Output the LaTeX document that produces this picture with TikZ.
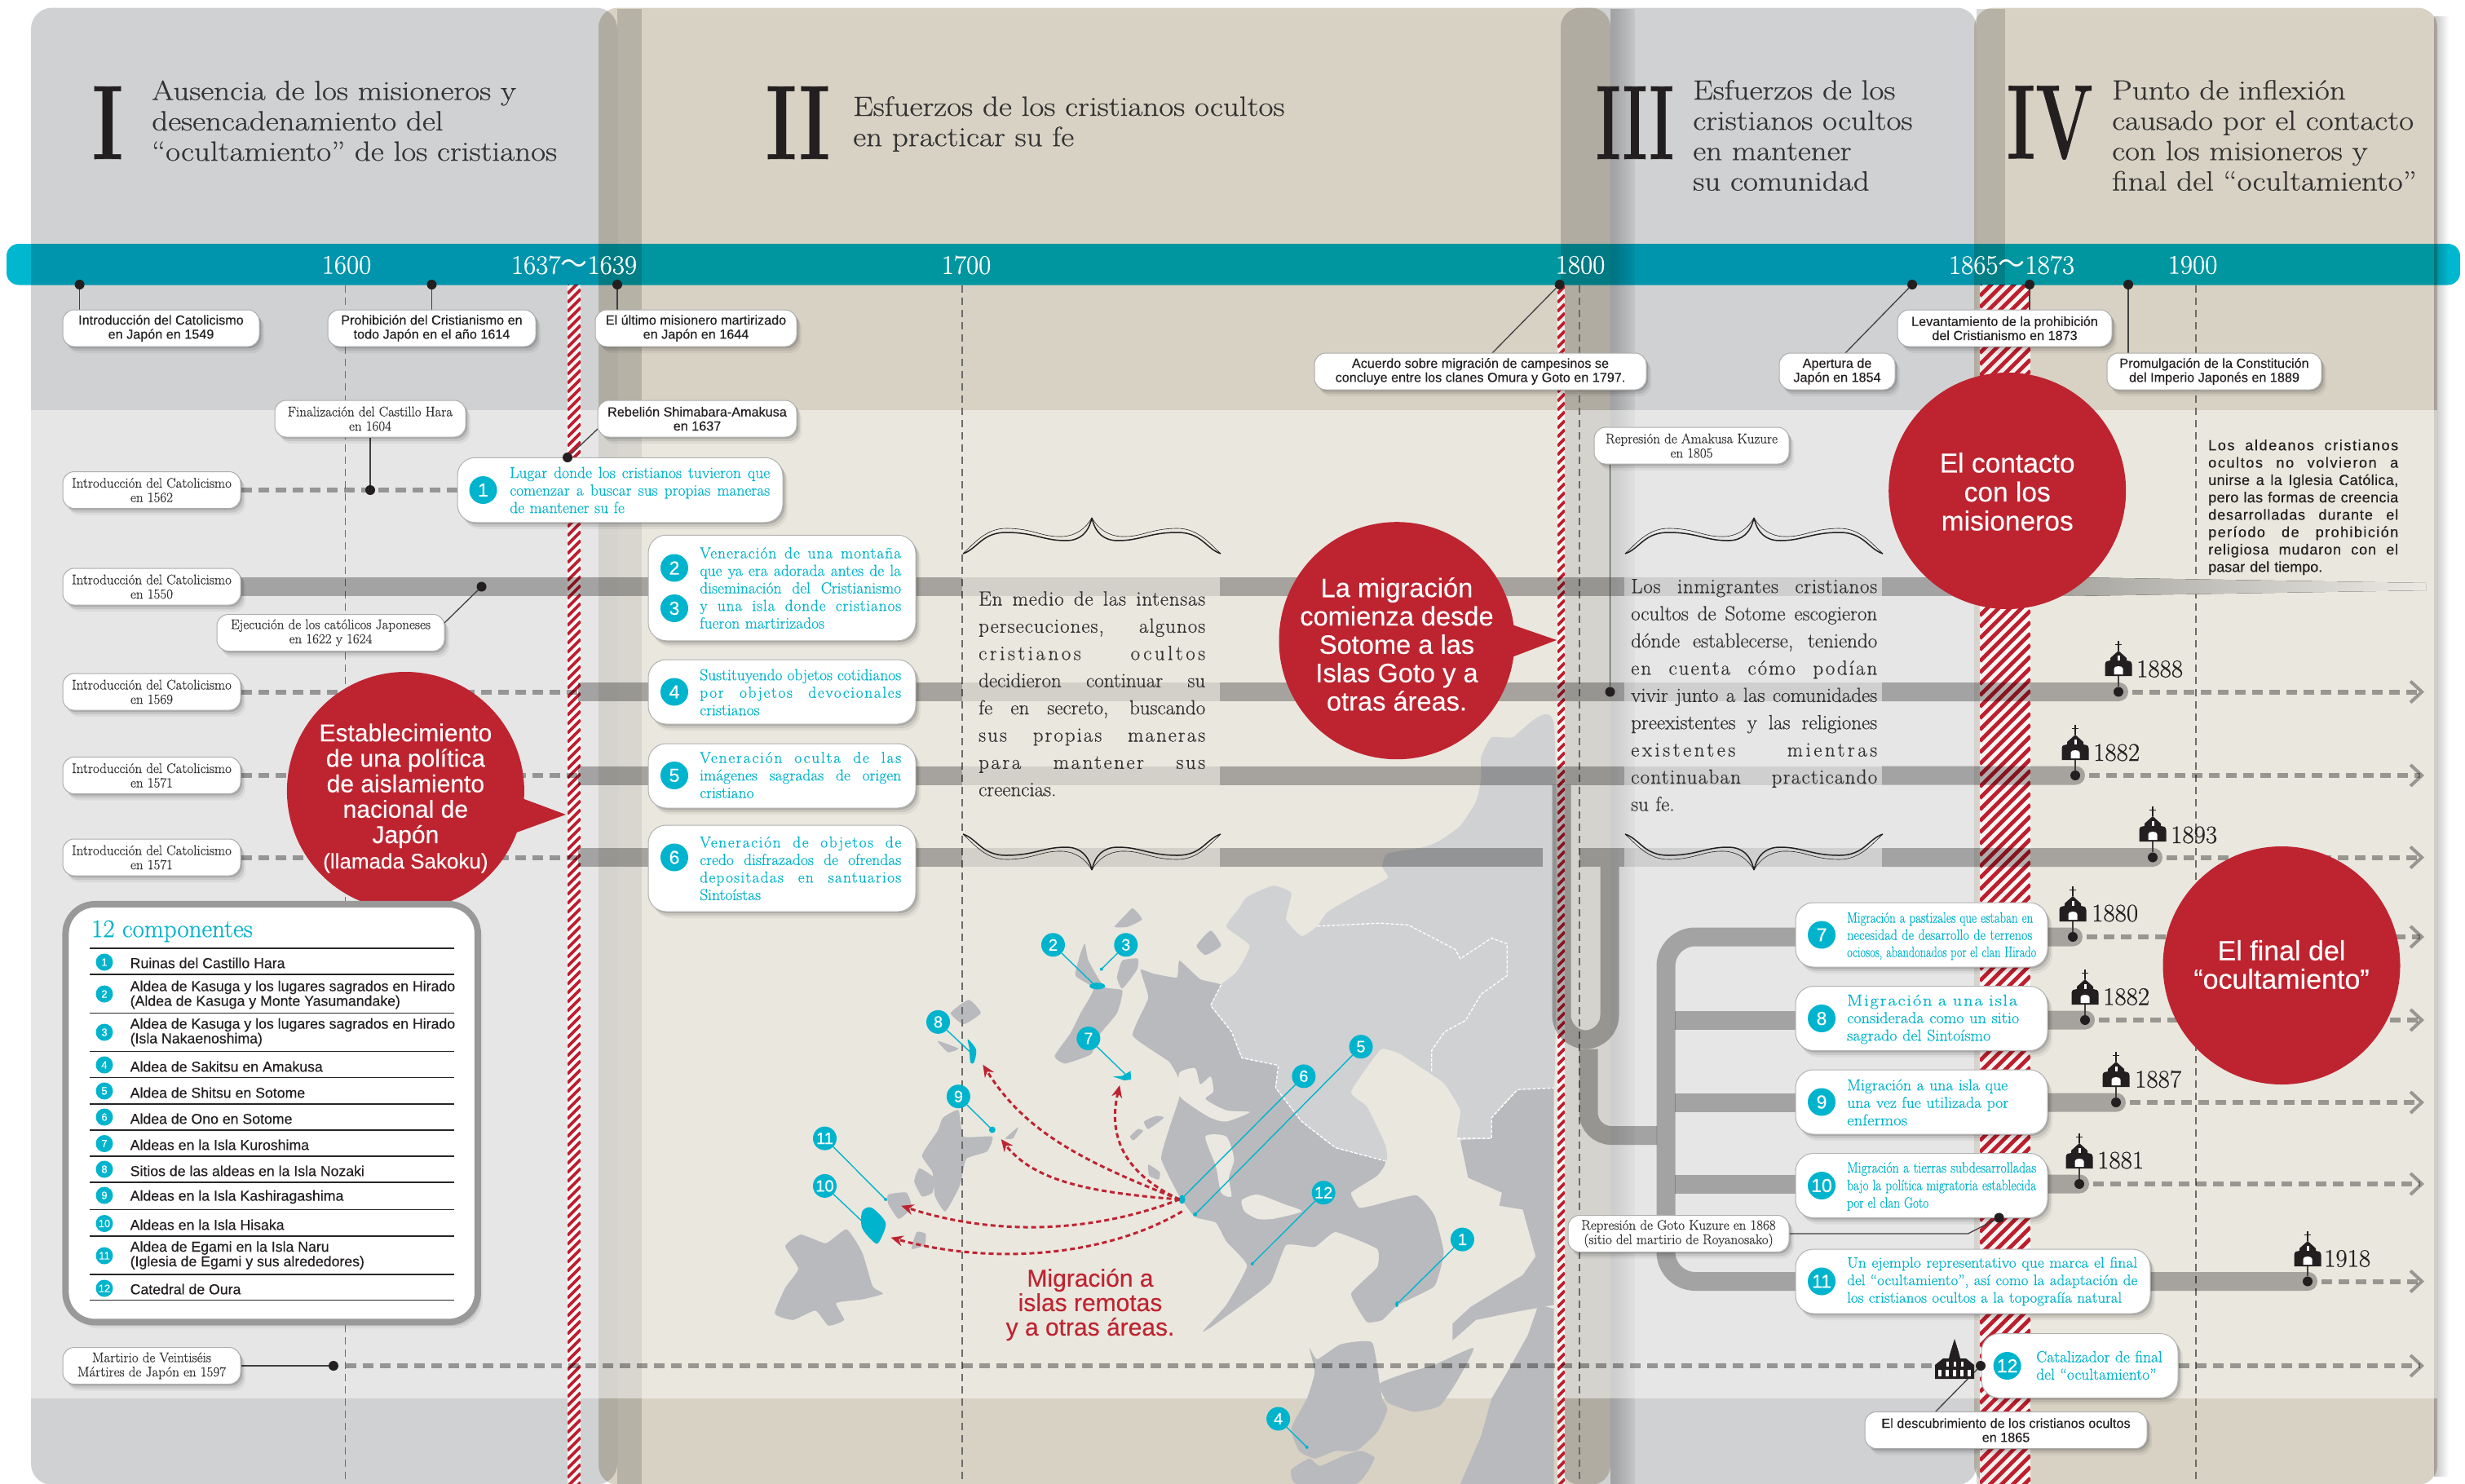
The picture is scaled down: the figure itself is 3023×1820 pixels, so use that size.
\documentclass[tikz,border=0pt]{standalone}
\usepackage{fontspec}
\usepackage{graphicx}
\setmainfont{Latin Modern Roman}[FakeBold=0.5]
\setsansfont{Liberation Sans}[FakeBold=0.25]
\newfontfamily\cjkfont{Noto Sans CJK JP}
\usetikzlibrary{shapes.geometric,shadows,arrows.meta}
\pgfdeclarelayer{bgl}\pgfdeclarelayer{conl}\pgfsetlayers{bgl,conl,main}
\definecolor{greyp}{HTML}{D0D1D3}
\definecolor{beigep}{HTML}{D8D2C4}
\definecolor{barc}{HTML}{00B7D0}
\definecolor{tealc}{HTML}{00B4CD}
\definecolor{redc}{HTML}{BE2430}
\definecolor{hatchc}{HTML}{BE1E2D}
\definecolor{inkc}{HTML}{231F20}
\definecolor{bodyc}{HTML}{333333}
\definecolor{landd}{HTML}{B9BABE}
\definecolor{seac}{HTML}{EAE8E1}
\newcommand\fs[2]{\fontsize{#1}{#2}\selectfont}
\newcommand\jl[1]{\hbox to \hsize{\spaceskip=.3em plus 1fil minus .1em\relax #1}\par}
\newcommand\jls[2]{{\addfontfeature{LetterSpace=#1}\jl{#2}}}
\newcommand\nl[1]{\hbox{#1}\par}
\newcommand\fitl[2]{\hbox{\resizebox{#1}{\height}{#2}}\par}
\newcommand\hatchstrip[4]{%
 \begin{scope}
 \clip (#1,349) rectangle (#2,1821);
 \fill[white,opacity=.78] (#1,349) rectangle (#2,1821);
 \pgfmathsetmacro\dw{#2-#1}
 \foreach \yy in {349,#3,...,2300} {\draw[draw=hatchc,line width=#4] (#1,\yy) -- ++(\dw,-\dw);}
 \end{scope}}
\newcommand\bandend[3]{\fill[fill=bandg,rounded corners=11.4pt] (#1,#3-11.5) -- (#2+12,#3-11.5) -- (#2+12,#3+11.5) [sharp corners] -- (#1,#3+11.5) -- cycle;}
\definecolor{bandg}{HTML}{B5B5B5}
\definecolor{bandlg}{HTML}{E6E6E6}
\definecolor{dashg}{HTML}{A6A6A6}
\tikzset{
 softshadow/.style={drop shadow={shadow xshift=2pt,shadow yshift=-2pt,opacity=.14,fill=black},
   drop shadow={shadow xshift=4pt,shadow yshift=-5pt,opacity=.09,fill=black},
   drop shadow={shadow xshift=6pt,shadow yshift=-8pt,opacity=.05,fill=black}},
 lblbase/.style={draw=black!32,line width=1pt,fill=white,rounded corners=14pt,inner sep=0pt,align=center,minimum height=45pt,softshadow},
 lblsans/.style={lblbase,font=\sffamily\fs{16.2}{17.3},text=inkc},
 lblserif/.style={lblbase,font=\fs{17}{17.6},text=bodyc},
 cardbox/.style={draw=black!30,line width=1pt,fill=white,rounded corners=22pt,inner sep=0pt,softshadow},
 cardtxt/.style={inner sep=0pt,anchor=west,text=tealc,font=\fs{19.5}{21.5}},
 numc/.style={circle,fill=tealc,text=white,inner sep=0pt,minimum size=34pt,font=\sffamily\fs{23}{23}},
 numl/.style={circle,fill=tealc,text=white,inner sep=0pt,minimum size=21pt,font=\sffamily\fs{13}{13}},
 numm/.style={circle,fill=tealc,text=white,inner sep=0pt,minimum size=29pt,font=\sffamily\fs{20}{20}},
 dotn/.style={circle,fill=inkc,inner sep=0pt,minimum size=12pt},
 leader/.style={draw=black!75,line width=1.3pt},
 tickv/.style={draw=black!58,line width=1.4pt,dash pattern=on 9pt off 6pt},
 bandd/.style={draw=bandg,line width=23pt},
 bandl/.style={draw=bandlg,line width=23pt},
 rowdash/.style={draw=dashg,line width=6pt,dash pattern=on 13pt off 8pt},
 rowarrow/.style={rowdash,-{Straight Barb[length=14pt,width=26pt,line width=4pt]}},
 bubble/.style={ellipse,fill=redc,inner sep=0pt},
 bubtxt/.style={text=white,align=center,inner sep=0pt,font=\sffamily},
 heading/.style={anchor=west,align=left,inner sep=0pt,text=bodyc,font=\fs{34}{37.2},xscale=1.15,transform shape},
 numeral/.style={inner sep=0pt,text=inkc,font=\bfseries\fs{128}{128}},
 yearbar/.style={text=white,inner sep=0pt,font=\fs{33}{33}},
 yearlbl/.style={anchor=west,inner sep=0pt,text=inkc,font=\fs{31}{31}},
 bodytxt/.style={inner sep=0pt,text width=#1,text=bodyc,font=\fs{25}{33.4}},
 legtxt/.style={anchor=west,inner sep=0pt,align=left,text=inkc,font=\sffamily\fs{17.7}{18}},
 land/.style={fill=landd},
 mapline/.style={draw=tealc,line width=1.4pt},
 migr/.style={draw=redc,line width=3pt,dash pattern=on 6pt off 4pt,-{Stealth[length=15pt,width=13pt]}},
 chapel/.pic={
  \fill[inkc] (-16.5,0) -- (-16.5,-14) .. controls (-16.5,-18) and (-13,-19) .. (-10,-19) -- (-10,-22) -- (0,-31) -- (10,-22) -- (10,-19) .. controls (13,-19) and (16.5,-18) .. (16.5,-14) -- (16.5,0) -- cycle;
  \fill[white] (-5.5,-2) -- (-5.5,-9) .. controls (-5.5,-13) and (5.5,-13) .. (5.5,-9) -- (5.5,-2) -- cycle;
  \fill[white] (-1.5,-19) rectangle (1.5,-25);
  \draw[inkc,line width=1.6pt] (0,-31) -- (0,-43) (-4,-38.5) -- (4,-38.5);
 },
 cathedral/.pic={
  \fill[inkc] (-24,0) -- (-24,-17) -- (-14,-25) -- (-7,-25) -- (-5,-33) -- (0,-49) -- (5,-33) -- (7,-25) -- (14,-25) -- (24,-17) -- (24,0) -- cycle;
  \foreach \xx in {-18,-9,0,9,18} {\fill[white] (\xx-1.8,-3) rectangle (\xx+1.8,-11);}
  \foreach \xx in {-9,0,9} {\fill[white] (\xx-1.5,-15) rectangle (\xx+1.5,-21);}
 },
 flourish/.pic={
  \foreach \s in {1,-1} {
   \begin{scope}[xscale=\s]
   \draw[inkc,line width=1.5pt] (0,0) .. controls (4,18) and (14,28) .. (32,28) .. controls (60,28) and (70,18) .. (105,18) .. controls (135,18) and (140,38) .. (158,44);
   \draw[inkc,line width=.6pt] (0,0) .. controls (8,14) and (20,22) .. (36,23) .. controls (62,24) and (72,13) .. (105,13) .. controls (130,13) and (145,32) .. (158,44);
   \end{scope}}
 }
}
\begin{document}
\begin{tikzpicture}[x=1pt,y=-1pt]
\useasboundingbox (0,0) rectangle (3023,1820);
\begin{pgfonlayer}{bgl}
 \fill[white] (0,0) rectangle (3023,1820);
 \fill[left color=black!24,right color=white] (2985,20) rectangle (3003,1810);
 % panels
 \begin{scope}[blend mode=multiply]
  \fill[greyp,rounded corners=26pt] (38,9.5) rectangle (757,1821);
  \fill[beigep,rounded corners=24pt] (734,9.5) rectangle (1975,1821);
  \fill[greyp,rounded corners=24pt] (1914,9.5) rectangle (2424,1821);
  \fill[beigep,rounded corners=24pt] (2421,9.5) rectangle (2989,1821);
  \fill[black!15] (757,11) rectangle (787,1820);
  \fill[black!15] (2424,11) rectangle (2459,1820);
  \foreach \xa/\pp in {1975/22,1978/21,1981/20,1984/18,1987/16,1990/14,1993/12,1996/10,1999/8,2002/6} {\fill[black!\pp] (\xa,11) rectangle (\xa+3,1820);}
 \end{scope}
 \fill[white,opacity=.47] (38,503) rectangle (2989,1715);
 % map
 \begin{scope}[x=.6378pt,y=-.4591pt,shift={(1000pt,-1100pt)}]
  \fill[greyp] plot[tension=.3,smooth cycle] coordinates {(935,105) (965,78) (985,40) (1040,-5) (1100,-50) (1090,-81) (1100,-116) (1170,-133) (1200,-150) (1240,-190) (1270,-254) (1280,-314) (1280,-374) (1300,-426) (1340,-426) (1420,-460) (1420,510) (1350,515) (1300,590) (1300,645) (1235,645) (1240,570) (1210,500) (1180,470) (1125,420) (1105,410) (1085,410) (1030,520) (1060,560) (1095,660) (1095,705) (1000,670) (935,600) (885,510) (890,450) (820,430) (800,360) (760,290) (780,235) (810,200) (835,130) (790,80) (815,30) (830,0) (880,-30) (915,-10) (905,60)};
  \fill[land] plot[tension=.25,smooth cycle] coordinates {(625,195) (650,205) (695,215) (700,170) (740,220) (780,235) (760,290) (800,360) (820,430) (890,450) (885,510) (935,600) (1000,670) (1095,705) (1080,745) (1030,790) (1045,830) (1070,825) (1155,797) (1190,850) (1208,950) (1190,1040) (1120,1090) (1090,1130) (1060,1135) (1030,1060) (1080,990) (1080,940) (1000,895) (960,935) (905,930) (875,1030) (810,1100) (760,1150) (745,1160) (790,1090) (830,985) (790,920) (770,870) (730,855) (700,800) (665,700) (680,620) (700,535) (700,490) (680,440) (610,370) (640,270)};
  \fill[seac] plot[tension=.4,smooth cycle] coordinates {(700,470) (730,458) (740,500) (760,480) (765,520) (750,540) (790,570) (835,575) (790,600) (760,590) (725,560) (700,530)};
  \fill[seac] plot[tension=.4,smooth cycle] coordinates {(750,640) (790,640) (805,700) (795,750) (800,800) (780,790) (770,720)};
  \fill[seac] plot[tension=.4,smooth cycle] coordinates {(820,810) (850,795) (900,820) (935,840) (880,860) (850,860) (825,840)};
  \fill[land] (1240,650) -- (1300,645) -- (1300,590) -- (1350,515) -- (1420,510) -- (1420,1090) -- (1340,1110) -- (1270,1130) -- (1225,1185) -- (1225,1140) -- (1260,1095) -- (1360,1010) -- (1385,960) -- (1360,835) -- (1315,825) -- (1320,790) -- (1255,750) -- cycle;
  \fill[land] plot[tension=.3,smooth cycle] coordinates {(950,1205) (965,1235) (1010,1195) (1070,1190) (1085,1300) (1090,1340) (1100,1370) (1080,1430) (1040,1480) (1000,1480) (960,1500) (930,1480) (915,1420) (945,1340) (960,1270)};
  \fill[land] plot[tension=.3,smooth cycle] coordinates {(1085,1300) (1140,1270) (1190,1250) (1265,1205) (1235,1290) (1200,1360) (1150,1375) (1100,1350)};
  \fill[land] plot[tension=.3,smooth cycle] coordinates {(925,1568) (915,1530) (950,1500) (970,1520) (1020,1490) (1050,1480) (1075,1500) (1040,1568)};
  \fill[land] (1420,1100) -- (1390,1090) -- (1370,1170) -- (1330,1270) -- (1300,1340) -- (1280,1440) -- (1240,1568) -- (1420,1568) -- cycle;
  \fill[land] plot[tension=.3,smooth cycle] coordinates {(518,125) (525,170) (555,240) (590,250) (580,310) (545,370) (530,420) (480,445) (460,425) (490,365) (510,310) (535,245) (500,210) (510,150)};
  \fill[land] plot[tension=.3,smooth cycle] coordinates {(590,170) (620,165) (618,195) (590,245) (580,215)};
  \fill[land] plot[tension=.3,smooth cycle] coordinates {(245,590) (275,570) (285,640) (340,640) (330,680) (290,700) (278,770) (250,840) (230,800) (225,735) (205,690) (235,625)};
  \fill[land] plot[tension=.3,smooth cycle] coordinates {(200,725) (228,750) (225,790) (205,800) (190,760)};
  \fill[land] plot[tension=.3,smooth cycle] coordinates {(390,615) (380,645) (365,645)};
  \fill[land] plot[tension=.3,smooth cycle] coordinates {(295,275) (318,310) (285,340) (260,310)};
  \fill[land] plot[tension=.3,smooth cycle] coordinates {(235,385) (275,405) (255,415)};
  \fill[land] plot[tension=.3,smooth cycle] coordinates {(140,795) (175,790) (185,830) (160,860) (140,820)};
  \fill[land] plot[tension=.3,smooth cycle] coordinates {(195,895) (212,900) (210,930) (185,940)};
  \fill[land] plot[tension=.3,smooth cycle] coordinates {(60,888) (90,950) (110,1040) (130,1060) (90,1075) (40,1085) (55,1130) (25,1145) (0,1105) (-43,1130) (-78,1113) (-58,1044) (-33,993) (-58,933) (-28,902) (20,925)};
  \fill[land] plot[tension=.3,smooth cycle] coordinates {(610,30) (628,60) (600,80) (575,80) (595,50)};
  \fill[land] plot[tension=.3,smooth cycle] coordinates {(760,90) (780,130) (750,155) (733,130)};
  \fill[land] plot[tension=.3,smooth cycle] coordinates {(655,585) (670,590) (640,620) (632,600)};
  \fill[land] plot[tension=.3,smooth cycle] coordinates {(620,620) (630,625) (612,650) (605,640)};
  \fill[land] plot[tension=.3,smooth cycle] coordinates {(640,715) (662,735) (660,755) (642,745)};
  \draw[white,line width=1.3pt,dash pattern=on 4pt off 2pt] (965,78) -- (1085,70) -- (1140,75) -- (1230,140) -- (1240,165) -- (1300,110) -- (1330,125) -- (1330,210) -- (1280,260) -- (1250,330) -- (1210,360) -- (1185,410) -- (1185,470);
  \draw[white,line width=1.3pt,dash pattern=on 4pt off 2pt] (780,235) -- (760,290) -- (800,360) -- (820,430) -- (890,450) -- (885,510) -- (935,600) -- (1000,670) -- (1095,705);
  \draw[white,line width=1.3pt,dash pattern=on 4pt off 2pt] (1235,645) -- (1300,645) -- (1300,590) -- (1350,515) -- (1420,510);
 \end{scope}
 % hatching
 \hatchstrip{696}{712}{360}{3.8pt}
 \hatchstrip{1910}{1919}{360}{3.6pt}
 \hatchstrip{2428}{2490}{363}{4.8pt}
 % dashed year lines
 \coordinate (t16) at (423.5,350); \coordinate (t17) at (1180,350);
 \coordinate (t18) at (1937,350); \coordinate (t19) at (2693,350);
 \foreach \tt in {t16,t17,t18,t19} {\draw[tickv] (\tt) -- (\tt |- 0,1820);}
 % time bar
 \begin{scope}[blend mode=multiply]
  \fill[barc,rounded corners=15pt] (8,299) rectangle (3017,349.5);
 \end{scope}
\end{pgfonlayer}

% year labels on the bar
\node[yearbar] at (425,325) {1600};
\node[yearbar] at (704,325) {1637{\cjkfont ～}1639};
\node[yearbar] at (1185,325) {1700};
\node[yearbar] at (1938,325) {1800};
\node[yearbar] at (2467,325) {1865{\cjkfont ～}1873};
\node[yearbar] at (2689,325) {1900};

% headings
\node[numeral] at (132,150.5) {\resizebox{38pt}{89pt}{I}};
\node[numeral] at (978.5,150.5) {\resizebox{79pt}{89pt}{II}};
\node[numeral] at (2005,150.5) {\resizebox{96pt}{89pt}{III}};
\node[numeral] at (2514,150.5) {\resizebox{106pt}{89pt}{IV}};
\node[heading] at (186,148) {Ausencia de los misioneros y\\desencadenamiento del\\“ocultamiento” de los cristianos};
\node[heading] at (1046,152) {Esfuerzos de los cristianos ocultos\\en practicar su fe};
\node[heading] at (2076,166) {Esfuerzos de los\\cristianos ocultos\\en mantener\\su comunidad};
\node[heading] at (2590,166) {Punto de inflexión\\causado por el contacto\\con los misioneros y\\final del “ocultamiento”};

% body texts
\node[bodytxt=278pt,anchor=north west] at (1200,725) {\jls{3}{En medio de las intensas}\jls{4}{persecuciones, algunos}\jls{14}{cristianos ocultos}\jl{decidieron continuar su}\jl{fe en secreto, buscando}\jls{8}{sus propias maneras}\jls{10}{para mantener sus}\nl{creencias.}};
\node[bodytxt=302pt,anchor=north west] at (2000,710) {\jls{3}{Los inmigrantes cristianos}\jl{ocultos de Sotome escogieron}\jl{dónde establecerse, teniendo}\jls{8}{en cuenta cómo podían}\jl{vivir junto a las comunidades}\jl{preexistentes y las religiones}\jls{14}{existentes mientras}\jls{5}{continuaban practicando}\nl{su fe.}};
\node[inner sep=0pt,text width=233pt,anchor=north west,text=inkc,font=\sffamily\fs{18}{21.3}] at (2708,539) {\jls{9}{Los aldeanos cristianos}\jls{9}{ocultos no volvieron a}\jls{2}{unirse a la Iglesia Católica,}\jls{2}{pero las formas de creencia}\jls{5}{desarrolladas durante el}\jls{8}{período de prohibición}\jls{5}{religiosa mudaron con el}\nl{pasar del tiempo.}};
\node[text=redc,align=center,inner sep=0pt,font=\sffamily\fs{30}{30}] at (1337,1600) {Migración a\\islas remotas\\y a otras áreas.};

% flourishes
\pic at (1339,635) {flourish};
\pic[yscale=-1] at (1339,1067) {flourish};
\pic at (2151,635) {flourish};
\pic[yscale=-1] at (2151,1067) {flourish};

% label boxes
\node[lblsans,minimum width=241pt] (a) at (197.5,402.5) {Introducción del Catolicismo\\en Japón en 1549};
\node[lblsans,minimum width=255pt] (b) at (529.5,402.5) {Prohibición del Cristianismo en\\todo Japón en el año 1614};
\node[lblsans,minimum width=247pt] (c) at (853.5,402.5) {El último misionero martirizado\\en Japón en 1644};
\node[lblserif,minimum width=234pt] (d) at (454,513.5) {Finalización del Castillo Hara\\en 1604};
\node[lblsans,minimum width=244pt] (e) at (855,513.5) {Rebelión Shimabara-Amakusa\\en 1637};
\node[lblserif,minimum width=218pt] (f) at (186,601) {Introducción del Catolicismo\\en 1562};
\node[lblserif,minimum width=218pt] (g) at (186,719.5) {Introducción del Catolicismo\\en 1550};
\node[lblserif,minimum width=279pt] (h) at (405.5,776) {Ejecución de los católicos Japoneses\\en 1622 y 1624};
\node[lblserif,minimum width=218pt] (i) at (186,848.5) {Introducción del Catolicismo\\en 1569};
\node[lblserif,minimum width=218pt] (j) at (186,951) {Introducción del Catolicismo\\en 1571};
\node[lblserif,minimum width=218pt] (k) at (186,1051.5) {Introducción del Catolicismo\\en 1571};
\node[lblserif,minimum width=218pt] (l) at (186,1675) {Martirio de Veintiséis\\Mártires de Japón en 1597};
\node[lblsans,minimum width=407pt] (m) at (1815.5,455.5) {Acuerdo sobre migración de campesinos se\\concluye entre los clanes Omura y Goto en 1797.};
\node[lblserif,minimum width=239pt] (n) at (2074.5,546.5) {Represión de Amakusa Kuzure\\en 1805};
\node[lblsans,minimum width=142pt] (o) at (2253,455.5) {Apertura de\\Japón en 1854};
\node[lblsans,minimum width=263pt] (p) at (2458.5,402.5) {Levantamiento de la prohibición\\del Cristianismo en 1873};
\node[lblsans,minimum width=263pt] (q) at (2715.5,455.5) {Promulgación de la Constitución\\del Imperio Japonés en 1889};
\node[lblserif,minimum width=271pt] (r) at (2058.5,1513) {Represión de Goto Kuzure en 1868\\(sitio del martirio de Royanosako)};
\node[lblsans,minimum width=346pt] (s) at (2460,1754) {El descubrimiento de los cristianos ocultos\\en 1865};

% red bubbles
\node[bubble,minimum width=291pt,minimum height=292pt] (ba) at (497.4,970) {};
\fill[redc] (640,979) -- (694,999) -- (628,1023) -- cycle;
\node[bubtxt,font=\sffamily\fs{30}{31.2}] at (497.4,979) {Establecimiento\\de una política\\de aislamiento\\nacional de\\Japón\\{\fs{26}{29.5}(llamada Sakoku)}};
\node[bubble,minimum width=289pt,minimum height=291pt] (bb) at (1713,785.7) {};
\fill[redc] (1854,766) -- (1909,785) -- (1854,806) -- cycle;
\node[bubtxt,font=\sffamily\fs{32.6}{34.8}] at (1713,790) {La migración\\comienza desde\\Sotome a las\\Islas Goto y a\\otras áreas.};
\node[bubble,minimum width=291pt,minimum height=290pt] (bc) at (2461.7,602) {};
\node[bubtxt,font=\sffamily\fs{33.5}{35.5}] at (2461.7,603) {El contacto\\con los\\misioneros};
\node[bubble,minimum width=291pt,minimum height=292pt] (bd) at (2798,1184) {};
\node[bubtxt,font=\sffamily\fs{34}{35}] at (2798,1183) {El final del\\“ocultamiento”};

% legend
\node[draw=black!40,line width=8pt,fill=white,rounded corners=36pt,inner sep=0pt,softshadow,minimum width=505.5pt,minimum height=512.5pt] (leg) at (333.2,1365.2) {};
\node[anchor=west,inner sep=0pt,text=tealc,font=\fs{31}{31}] at (112,1142) {12 componentes};
\foreach \yy in {1163,1195,1242.3,1289.8,1321.8,1354,1386,1418,1450,1483.5,1516,1563,1594.6} {\draw[black!85,line width=1.2pt] (110,\yy) -- (557,\yy);}
\foreach \nn/\yy in {1/1180,2/1219,3/1266,4/1306,5/1338,6/1370,7/1402.5,8/1434,9/1466,10/1500.5,11/1540,12/1580} {\node[numl] at (128,\yy) {\nn};}
\node[legtxt] at (159.5,1181) {Ruinas del Castillo Hara};
\node[legtxt] at (159.5,1220) {Aldea de Kasuga y los lugares sagrados en Hirado\\(Aldea de Kasuga y Monte Yasumandake)};
\node[legtxt] at (159.5,1266) {Aldea de Kasuga y los lugares sagrados en Hirado\\(Isla Nakaenoshima)};
\node[legtxt] at (159.5,1308) {Aldea de Sakitsu en Amakusa};
\node[legtxt] at (159.5,1340) {Aldea de Shitsu en Sotome};
\node[legtxt] at (159.5,1372) {Aldea de Ono en Sotome};
\node[legtxt] at (159.5,1404) {Aldeas en la Isla Kuroshima};
\node[legtxt] at (159.5,1436) {Sitios de las aldeas en la Isla Nozaki};
\node[legtxt] at (159.5,1468) {Aldeas en la Isla Kashiragashima};
\node[legtxt] at (159.5,1502) {Aldeas en la Isla Hisaka};
\node[legtxt] at (159.5,1539.5) {Aldea de Egami en la Isla Naru\\(Iglesia de Egami y sus alrededores)};
\node[legtxt] at (159.5,1581) {Catedral de Oura};

% cards
\node[cardbox,minimum width=399pt,minimum height=79.5pt] (c1) at (760.5,601) {};
\node[numc] (n1) at (592.5,601) {1};
\node[cardtxt,text width=319pt] at (625,601) {\jl{Lugar donde los cristianos tuvieron que}\jl{comenzar a buscar sus propias maneras}\nl{de mantener su fe}};
\node[cardbox,minimum width=328pt,minimum height=129.5pt] (c2) at (959,721) {};
\node[numc] (n2) at (827,696.5) {2};
\node[numc] (n3) at (827,746) {3};
\node[cardtxt,text width=247pt] at (858,721) {\jls{5}{Veneración de una montaña}\jl{que ya era adorada antes de la}\jl{diseminación del Cristianismo}\jls{4}{y una isla donde cristianos}\nl{fueron martirizados}};
\node[cardbox,minimum width=328pt,minimum height=79pt] (c4) at (959,848.5) {};
\node[numc] (n4) at (827,848.5) {4};
\node[cardtxt,text width=247pt] at (858,849) {\jl{Sustituyendo objetos cotidianos}\jls{8}{por objetos devocionales}\nl{cristianos}};
\node[cardbox,minimum width=328pt,minimum height=79pt] (c5) at (959,951.5) {};
\node[numc] (n5) at (827,951) {5};
\node[cardtxt,text width=247pt] at (858,950.5) {\jls{9}{Veneración oculta de las}\jl{imágenes sagradas de origen}\nl{cristiano}};
\node[cardbox,minimum width=328pt,minimum height=106pt] (c6) at (959,1065) {};
\node[numc] (n6) at (827,1051.5) {6};
\node[cardtxt,text width=247pt] at (858,1065) {\jls{8}{Veneración de objetos de}\jl{credo disfrazados de ofrendas}\jls{6}{depositadas en santuarios}\nl{Sintoístas}};
\node[cardbox,minimum width=309pt,minimum height=79pt] (c7) at (2356.5,1146.5) {};
\node[numc] (n7) at (2234,1146.5) {7};
\node[cardtxt,text width=235pt,font=\fs{18.5}{21}] at (2265,1148) {\fitl{228pt}{Migración a pastizales que estaban en}\fitl{227pt}{necesidad de desarrollo de terrenos}\fitl{232pt}{ociosos, abandonados por el clan Hirado}};
\node[cardbox,minimum width=309pt,minimum height=79pt] (c8) at (2356.5,1249) {};
\node[numc] (n8) at (2234,1249) {8};
\node[cardtxt,text width=235pt] at (2265,1250) {{\fitl{209pt}{\addfontfeature{LetterSpace=8}Migración a una isla}}\fitl{211pt}{considerada como un sitio}\fitl{176pt}{sagrado del Sintoísmo}};
\node[cardbox,minimum width=309pt,minimum height=79pt] (c9) at (2356.5,1351.5) {};
\node[numc] (n9) at (2234,1351.5) {9};
\node[cardtxt,text width=235pt] at (2265,1352) {\fitl{197pt}{Migración a una isla que}\fitl{198pt}{una vez fue utilizada por}\fitl{74pt}{enfermos}};
\node[cardbox,minimum width=309pt,minimum height=79pt] (c10) at (2356.5,1454) {};
\node[numc] (n10) at (2234,1454) {10};
\node[cardtxt,text width=235pt,font=\fs{18.5}{21.5}] at (2265,1455) {\fitl{232pt}{Migración a tierras subdesarrolladas}\fitl{232pt}{bajo la política migratoria establecida}\fitl{100pt}{por el clan Goto}};
\node[cardbox,minimum width=435pt,minimum height=79pt] (c11) at (2419.5,1571.5) {};
\node[numc] (n11) at (2234,1571.5) {11};
\node[cardtxt,text width=360pt,font=\fs{18.5}{21.5}] at (2265,1571.5) {\fitl{356pt}{Un ejemplo representativo que marca el final}\fitl{356pt}{del “ocultamiento”, así como la adaptación de}\fitl{337pt}{los cristianos ocultos a la topografía natural}};
\node[cardbox,minimum width=241pt,minimum height=79pt] (c12) at (2550.5,1675) {};
\node[numc] (n12) at (2461.6,1675) {12};
\node[cardtxt,text width=170pt] at (2497,1674.5) {\nl{Catalizador de final}\nl{del “ocultamiento”}};

% dots
\node[dotn] (d1) at (97.6,349) {};
\node[dotn] (d2) at (529.5,349) {};
\node[dotn] (d3) at (757,349) {};
\node[dotn] (d4) at (454,601) {};
\node[dotn] (d5) at (696,561) {};
\node[dotn] (d6) at (590.5,719.5) {};
\node[dotn] (d7) at (409,1675) {};
\node[dotn] (d8) at (1912.6,349) {};
\node[dotn] (d9) at (1974.5,848.5) {};
\node[dotn] (d10) at (2345,349) {};
\node[dotn] (d11) at (2489,349) {};
\node[dotn] (d12) at (2610,349) {};
\node[dotn] (d13) at (2451.6,1493.5) {};
\node[dotn] (d14) at (2429,1675) {};
\node[dotn] (y88) at (2598,848.5) {};
\node[dotn] (y82) at (2545,951) {};
\node[dotn] (y93) at (2640,1051.5) {};
\node[dotn] (y80) at (2542,1149) {};
\node[dotn] (y82b) at (2557,1251) {};
\node[dotn] (y87) at (2595,1352) {};
\node[dotn] (y81) at (2550,1452) {};
\node[dotn] (y18) at (2830,1571.5) {};

% churches
\coordinate (ch88) at (2598,829); \pic at (ch88) {chapel}; \node[yearlbl] at (2620,820.5) {1888};
\coordinate (ch82) at (2545,932); \pic at (ch82) {chapel}; \node[yearlbl] at (2567,923) {1882};
\coordinate (ch93) at (2640,1032); \pic at (ch93) {chapel}; \node[yearlbl] at (2662,1024) {1893};
\coordinate (ch80) at (2542,1130); \pic at (ch80) {chapel}; \node[yearlbl] at (2565,1120) {1880};
\coordinate (ch82b) at (2557,1232); \pic at (ch82b) {chapel}; \node[yearlbl] at (2579,1222.5) {1882};
\coordinate (ch87) at (2595,1333); \pic at (ch87) {chapel}; \node[yearlbl] at (2618,1323.5) {1887};
\coordinate (ch81) at (2550,1433); \pic at (ch81) {chapel}; \node[yearlbl] at (2572,1423) {1881};
\coordinate (ch18) at (2830,1553); \pic at (ch18) {chapel}; \node[yearlbl] at (2850,1543.5) {1918};
\coordinate (ch12) at (2397,1691); \pic at (ch12) {cathedral};

% map markers and migration
\begin{scope}[x=.6378pt,y=-.4591pt,shift={(1000pt,-1100pt)}]
 \node[numm] (m2) at (457,128) {2};
 \node[numm] (m3) at (597,128) {3};
 \node[numm] (m8) at (236,334) {8};
 \node[numm] (m7) at (525,378) {7};
 \node[numm] (m9) at (275,533) {9};
 \node[numm] (m11) at (18,645) {11};
 \node[numm] (m10) at (18,772) {10};
 \node[numm] (m6) at (939,479) {6};
 \node[numm] (m5) at (1049,400) {5};
 \node[numm] (m12) at (977,790) {12};
 \node[numm] (m1) at (1244,915) {1};
 \node[numm] (m4) at (890,1394) {4};
 \fill[tealc] (542,238) ellipse (15 and 9);
 \fill[tealc] (590,478) -- (606,465) -- (607,488) -- (594,490) -- (572,480) -- cycle;
 \fill[tealc] plot[smooth cycle] coordinates {(293,380) (309,408) (305,442) (298,442) (296,405)};
 \fill[tealc] plot[smooth cycle] coordinates {(90,840) (108,830) (135,870) (125,915) (115,925) (90,885)};
 \fill[tealc] (705,808) ellipse (6 and 12);
 \fill[tealc] (340,622) circle (4pt);
 \fill[tealc] (1118,1088) ellipse (3 and 8);
 \fill[tealc] (730,848) circle (2.5pt);
 \fill[tealc] (840,980) circle (2pt);
 \fill[tealc] (945,1470) circle (2pt);
 \fill[tealc] (550,193) circle (2pt);
 \fill[tealc] (135,808) circle (2pt);
 \draw[mapline] (m2) -- (535,233);
 \draw[mapline] (m3) -- (550,193);
 \draw[mapline] (m8) -- (298,415);
 \draw[mapline] (m7) -- (597,475);
 \draw[mapline] (m9) -- (340,622);
 \draw[mapline] (m11) -- (135,808);
 \draw[mapline] (m10) -- (100,880);
 \draw[mapline] (m6) -- (705,805);
 \draw[mapline] (m5) -- (730,848);
 \draw[mapline] (m12) -- (840,980);
 \draw[mapline] (m1) -- (1118,1088);
 \draw[mapline] (m4) -- (945,1470);
 \coordinate (src) at (700,808);
 \draw[migr] (src) .. controls (500,700) and (400,620) .. (322,448);
 \draw[migr] (src) .. controls (530,790) and (420,760) .. (357,647);
 \draw[migr] (src) .. controls (580,730) and (565,620) .. (585,503);
 \draw[migr] (src) .. controls (530,900) and (340,905) .. (165,825);
 \draw[migr] (705,840) .. controls (560,960) and (340,985) .. (145,910);
\end{scope}

% connectors (under the boxes)
\begin{pgfonlayer}{conl}
 \coordinate (zal) at (1180,0); \coordinate (zar) at (1496,0);
 \coordinate (zbl) at (1992,0); \coordinate (zbr) at (2308,0);
 \coordinate (hx) at (709,0);
 \fill[left color=black!28!seac,right color=seac] (2541,708) -- (2975,715) -- (2975,724) -- (2541,731) -- cycle;
 \begin{scope}[blend mode=multiply]
  % row 1562
  \draw[rowdash] (f.east) -- (c1.west);
  % row 1550
  \draw[bandd] (g.east) -- (zal |- g.east);
  \draw[bandl] (zal |- g.east) -- (zar |- g.east);
  \draw[bandd] (zar |- g.east) -- (zbl |- g.east);
  \draw[bandl] (zbl |- g.east) -- (zbr |- g.east);
  \draw[bandd] (zbr |- g.east) -- (2541,719.5);
  % rows 1569, 1571, 1571
  \foreach \nm in {i,j,k} {
   \draw[rowdash] (\nm.east) -- (hx |- \nm.east);
   \draw[bandd] (hx |- \nm.east) -- (zal |- \nm.east);
   \draw[bandl] (zal |- \nm.east) -- (zar |- \nm.east);
  }
  \draw[bandd] (zar |- i.east) -- (zbl |- i.east);
  \draw[bandd] (zar |- j.east) -- (zbl |- j.east);
  \draw[bandd] (zar |- k.east) -- (1892,1051.5) (1937,1051.5) -- (zbl |- k.east);
  \draw[bandl] (zbl |- i.east) -- (zbr |- i.east);
  \draw[bandl] (zbl |- j.east) -- (zbr |- j.east);
  \draw[bandl] (zbl |- k.east) -- (zbr |- k.east);
  \bandend{2308}{2598}{848.5}
  \bandend{2308}{2545}{951}
  \bandend{2308}{2640}{1051.5}
  % migration pipes
  \draw[bandd,rounded corners=30pt] (1915,962.5) -- (1915,1275) -- (1974,1275) -- (1974,1063);
  \draw[bandd,rounded corners=28pt] (1948,1286.5) -- (1948,1392.5) -- (2032,1392.5);
  \draw[bandd,rounded corners=36pt] (c7.center |- y80) -- (2043,1149) -- (2043,1571.5) -- (c11.center |- y18);
  \draw[bandd] (2054,1251) -- (c8.center |- y82b) (2054,1352) -- (c9.center |- y87) (2054,1452) -- (c10.center |- y81);
  \bandend{2460}{2542}{1149}
  \bandend{2460}{2557}{1251}
  \bandend{2460}{2595}{1352}
  \bandend{2460}{2550}{1452}
  \bandend{2560}{2830}{1571.5}
  % dashed continuations
  \coordinate (e88) at (2973,848.5); \coordinate (e82) at (2973,951); \coordinate (e93) at (2973,1051.5);
  \coordinate (e80) at (2973,1149); \coordinate (e82b) at (2973,1251); \coordinate (e87) at (2973,1352);
  \coordinate (e81) at (2973,1452); \coordinate (e18) at (2973,1571.5); \coordinate (e12) at (2973,1675);
  \foreach \dt/\ee in {y88/e88,y82/e82,y93/e93,y80/e80,y82b/e82b,y87/e87,y81/e81,y18/e18} {
   \draw[rowarrow] ([xshift=17pt]\dt.center) -- (\ee);
  }
  \draw[rowdash] ([xshift=15pt]d7.center) -- (ch12 |- d7);
  \draw[rowarrow] (c12.east) -- (e12);
 \end{scope}
 % leaders
 \draw[leader] (d1) -- (d1 |- a.north);
 \draw[leader] (d2) -- (d2 |- b.north);
 \draw[leader] (d3) -- (d3 |- c.north);
 \draw[leader] (d4 |- d.south) -- (d4);
 \coordinate (eleft) at (733,526);
 \draw[leader] (eleft) -- (d5);
 \coordinate (hright) at (545,764);
 \draw[leader] (hright) -- (d6);
 \draw[leader] (l.east) -- (d7);
 \coordinate (mtop) at (1830,433);
 \draw[leader] (mtop) -- (d8);
 \draw[leader] (d9 |- n.south) -- (d9);
 \coordinate (otop) at (2263,433);
 \draw[leader] (otop) -- (d10);
 \draw[leader] (d11) -- (d11 |- p.north);
 \draw[leader] (d12) -- (d12 |- q.north);
 \draw[leader] (r.east) -- ++(219,0) -- (d13);
 \coordinate (stop) at (2373,1732);
 \draw[leader] (stop) -- (d14);
 \draw[leader] (ch88) -- (y88); \draw[leader] (ch82) -- (y82); \draw[leader] (ch93) -- (y93);
 \draw[leader] (ch80) -- (y80); \draw[leader] (ch82b) -- (y82b); \draw[leader] (ch87) -- (y87);
 \draw[leader] (ch81) -- (y81); \draw[leader] (ch18) -- (y18);
\end{pgfonlayer}
\end{tikzpicture}
\end{document}
